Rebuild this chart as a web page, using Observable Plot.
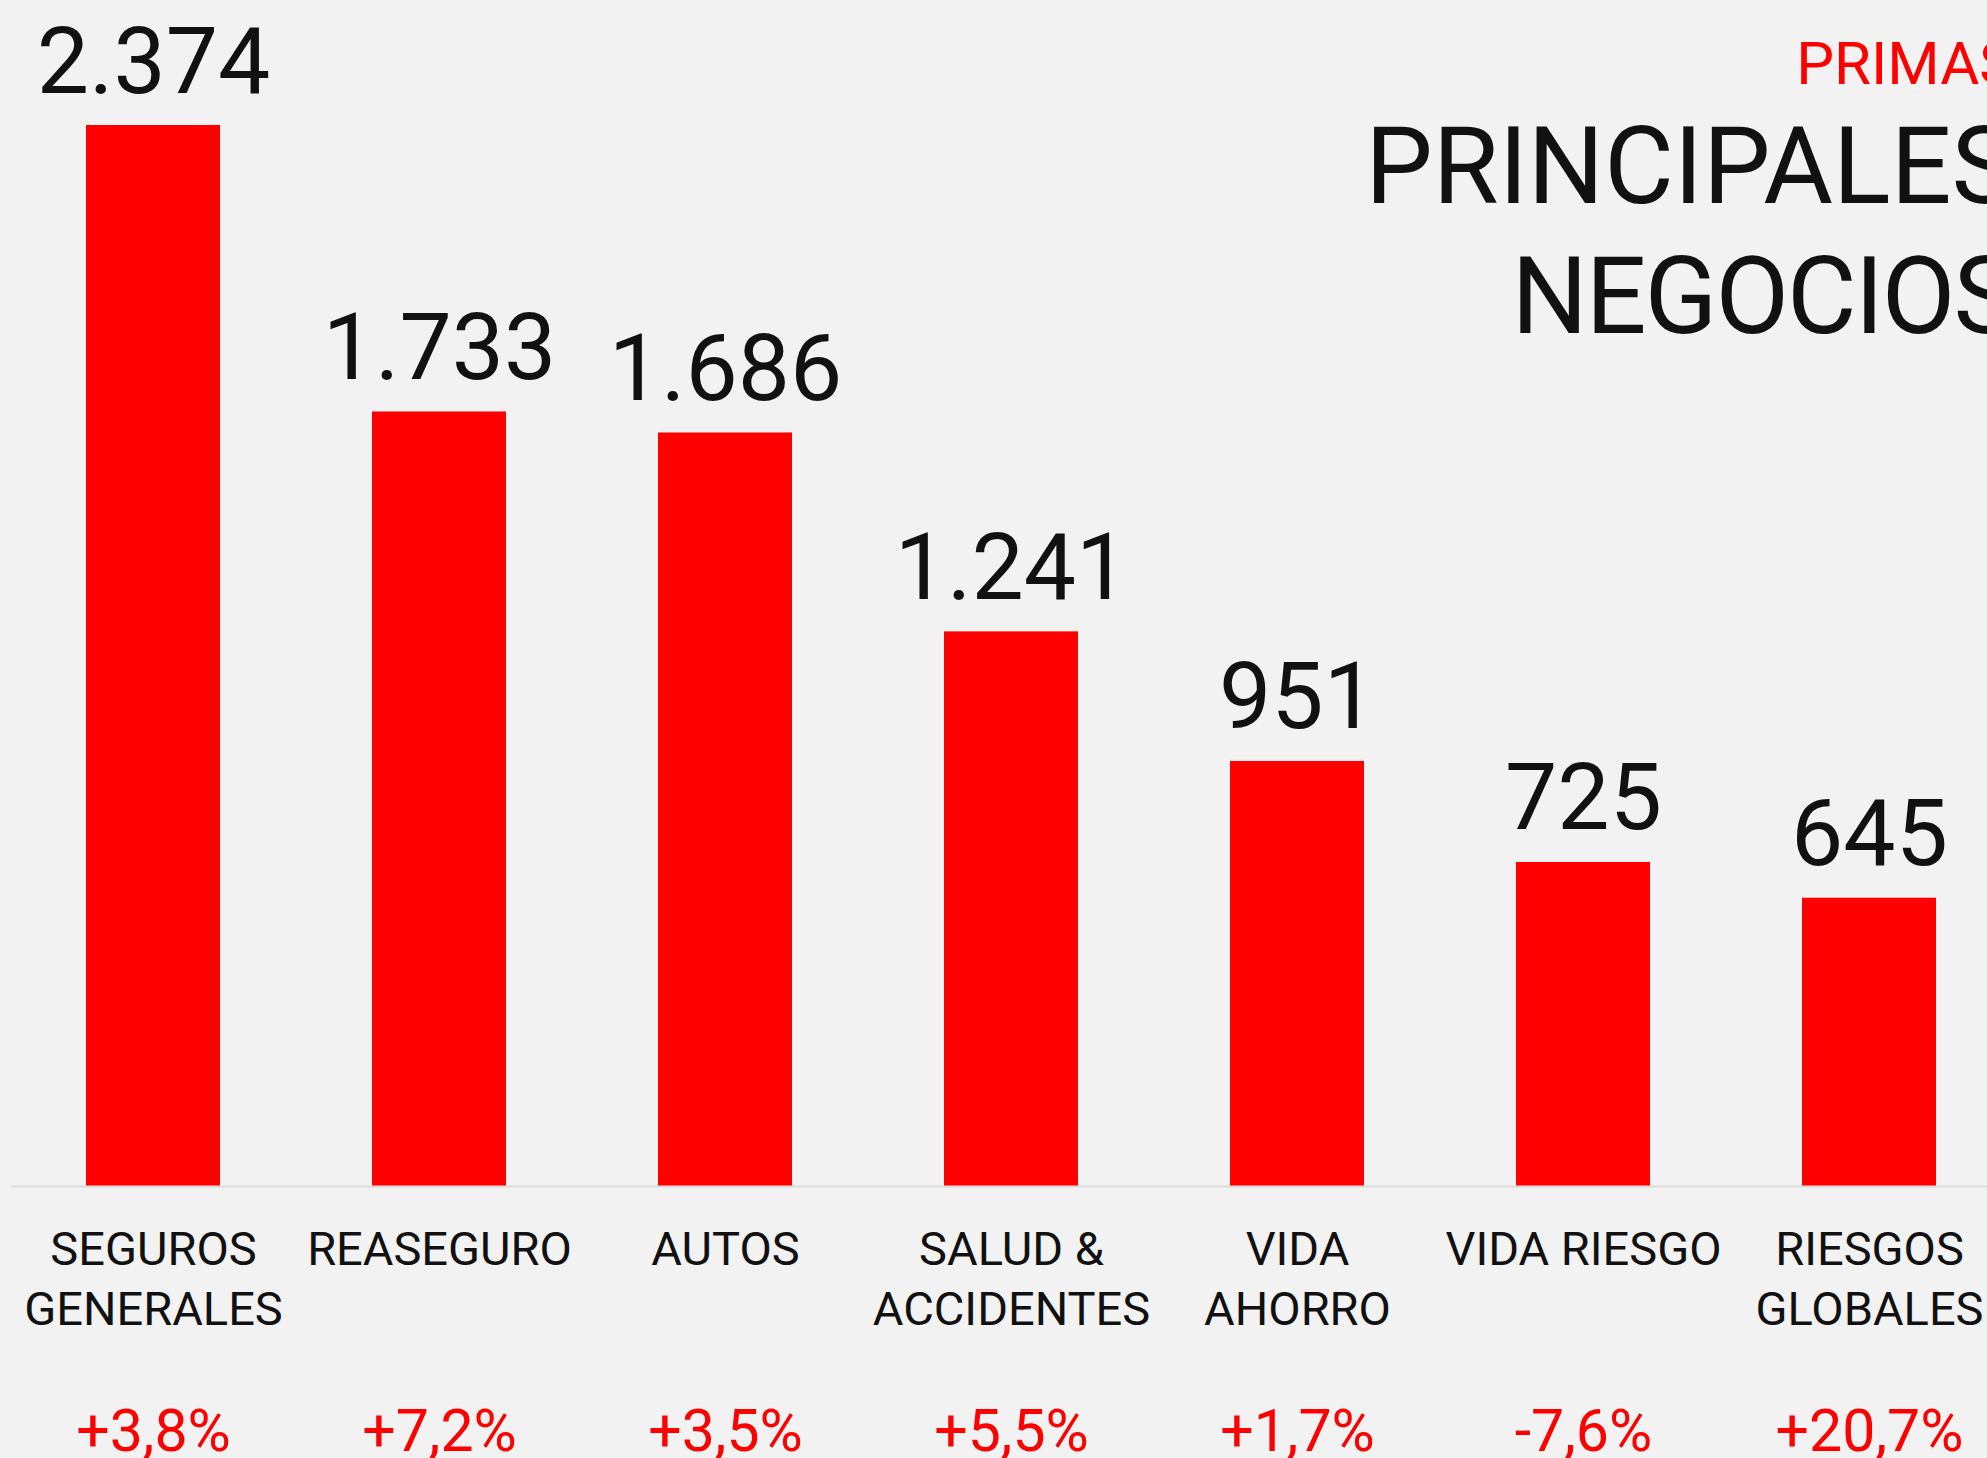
<!DOCTYPE html>
<html>
<head>
<meta charset="utf-8">
<script src="https://cdn.jsdelivr.net/npm/d3@7"></script>
<script src="https://cdn.jsdelivr.net/npm/@observablehq/plot@0.6"></script>
<style>
  html, body { margin: 0; padding: 0; background: #f2f2f2; overflow: hidden; }
  #wrap { position: relative; width: 1987px; height: 1458px; overflow: hidden; background: #f2f2f2; font-family: Roboto, "DejaVu Sans", sans-serif; }
  #chart { position: absolute; left: 0; top: 0; }
  #chart g[aria-label="vals"] text { letter-spacing: -3px; }
  #chart g[aria-label="cats"] text { letter-spacing: 0.6px; }
  .t { position: absolute; right: -28px; white-space: nowrap; line-height: 1; text-align: right; }
  #t1 { top: 34px; font-size: 60px; color: #ff0000; }
  #t2 { top: 113px; font-size: 107px; color: #111; }
  #t3 { top: 243px; font-size: 107px; color: #111; letter-spacing: -2px; }
</style>
</head>
<body>
<div id="wrap">
  <div id="chart"></div>
  <div class="t" id="t1">PRIMAS</div>
  <div class="t" id="t2">PRINCIPALES</div>
  <div class="t" id="t3">NEGOCIOS</div>
</div>
<script>
const categories = ["SEGUROS\nGENERALES", "REASEGURO", "AUTOS", "SALUD &\nACCIDENTES", "VIDA\nAHORRO", "VIDA RIESGO", "RIESGOS\nGLOBALES"];
const values = [2374, 1733, 1686, 1241, 951, 725, 645];
const valueLabels = ["2.374", "1.733", "1.686", "1.241", "951", "725", "645"];
const changes = ["+3,8%", "+7,2%", "+3,5%", "+5,5%", "+1,7%", "-7,6%", "+20,7%"];

const data = categories.map((c, i) => ({cat: c, value: values[i], label: valueLabels[i], change: changes[i]}));

const plot = Plot.plot({
  width: 1987,
  height: 1458,
  marginLeft: 10,
  marginRight: 0,
  marginTop: 125,
  marginBottom: 272,
  style: {background: "transparent", fontFamily: "Roboto, 'DejaVu Sans', sans-serif", overflow: "visible"},
  x: {domain: categories, paddingInner: 0.5315, paddingOuter: 0.222, align: 0.6, axis: null},
  y: {domain: [0, d3.max(values)], axis: null},
  marks: [
    Plot.barY(data, {x: "cat", y: "value", fill: "#ff0000"}),
    Plot.ruleY([0], {stroke: "#dcdcdc", strokeWidth: 2}),
    Plot.text(data, {x: "cat", y: "value", text: "label", dy: -33, lineAnchor: "bottom", fontSize: 93, fill: "#111", ariaLabel: "vals"}),
    Plot.text(data, {x: "cat", y: 0, text: "cat", dy: 36, lineAnchor: "top", lineHeight: 60/47, fontSize: 47, fill: "#111", ariaLabel: "cats"}),
    Plot.text(data, {x: "cat", y: 0, text: "change", dy: 264, lineAnchor: "bottom", fontSize: 59, fill: "#ff0000", ariaLabel: "pct"})
  ]
});
document.getElementById("chart").appendChild(plot);

// make the % sign smaller, as in the original
d3.select(plot).selectAll('g[aria-label="pct"] text').each(function() {
  const s = d3.select(this);
  const txt = s.text();
  const num = txt.replace("%", "");
  s.text(null);
  s.append("tspan").text(num);
  s.append("tspan").attr("font-size", 45).text("%");
});
</script>
</body>
</html>
